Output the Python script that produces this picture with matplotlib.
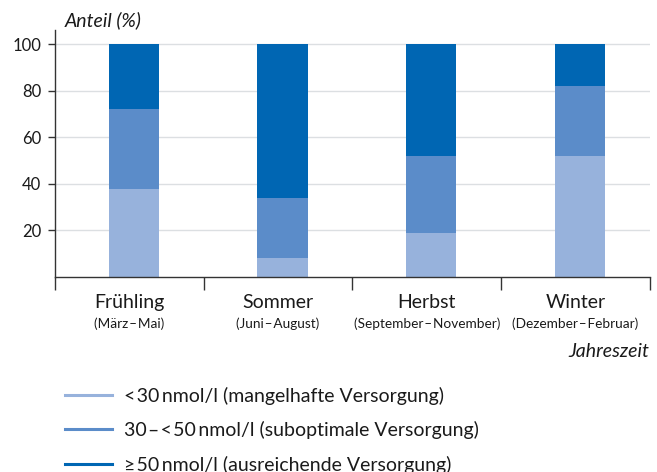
import matplotlib
matplotlib.use("Agg")
import matplotlib.pyplot as plt
from matplotlib.lines import Line2D
import numpy as np

plt.rcParams['font.family'] = ['Lato', 'DejaVu Sans']

seasons = ["Frühling", "Sommer", "Herbst", "Winter"]
months = ["(März\u200a–\u200aMai)", "(Juni\u200a–\u200aAugust)",
          "(September\u200a–\u200aNovember)", "(Dezember\u200a–\u200aFebruar)"]
mangel = [38, 8, 19, 52]
subopt = [34, 26, 33, 30]
ausr = [28, 66, 48, 18]
series_labels = ["<\u200a30\u2009nmol/l (mangelhafte Versorgung)",
                 "30\u200a–\u200a<\u200a50\u2009nmol/l (suboptimale Versorgung)",
                 "≥\u200a50\u2009nmol/l (ausreichende Versorgung)"]
colors = ["#97b2dc", "#5b8cc9", "#0066b3"]
yticks = [20, 40, 60, 80, 100]

fig = plt.figure(figsize=(6.57, 4.72), dpi=100)
ax = fig.add_axes([0.0837, 0.413, 0.9053, 0.5234])

x = np.arange(len(seasons))
xb = x + 0.03
w = 0.34
b1 = np.array(mangel)
b2 = b1 + np.array(subopt)
ax.bar(xb, mangel, w, color=colors[0], zorder=2)
ax.bar(xb, subopt, w, bottom=b1, color=colors[1], zorder=2)
ax.bar(xb, ausr, w, bottom=b2, color=colors[2], zorder=2)

ax.set_xlim(-0.5, len(seasons) - 0.5)
ax.set_ylim(0, 106)
ax.set_yticks(yticks)
ax.set_yticklabels([str(v) for v in yticks], fontsize=12, color="#1a1a1a")
ax.yaxis.grid(True, color="#dcdfe2", linewidth=1.0, zorder=0)
ax.set_axisbelow(True)

ax.set_xticks(np.arange(-0.5, len(seasons), 1.0))
ax.set_xticklabels([])
ax.tick_params(axis='x', direction='out', length=9, width=1.0, color="#333333")
ax.tick_params(axis='y', direction='out', length=5, width=1.0, color="#333333", pad=5)

for i, (s, m) in enumerate(zip(seasons, months)):
    ax.annotate(s, xy=(i, 0), xycoords=('data', 'axes fraction'),
                xytext=(0, -12), textcoords='offset points',
                ha='center', va='top', fontsize=14, color="#1a1a1a")
    ax.annotate(m, xy=(i, 0), xycoords=('data', 'axes fraction'),
                xytext=(0, -29), textcoords='offset points',
                ha='center', va='top', fontsize=9.8, color="#1a1a1a")

for sp in ['top', 'right']:
    ax.spines[sp].set_visible(False)
for sp in ['left', 'bottom']:
    ax.spines[sp].set_color("#333333")
    ax.spines[sp].set_linewidth(1.0)

fig.text(0.099, 0.957, "Anteil (%)", style='italic', fontsize=14,
         ha='left', va='center', color="#1a1a1a")
fig.text(0.988, 0.256, "Jahreszeit", style='italic', fontsize=14,
         ha='right', va='center', color="#1a1a1a")

handles = [Line2D([0], [0], color=c, linewidth=2.2) for c in colors]
fig.legend(handles, series_labels, loc='upper left',
           bbox_to_anchor=(0.099, 0.181), frameon=False,
           fontsize=14, handlelength=2.4, handletextpad=0.65,
           labelspacing=0.85, borderaxespad=0, borderpad=0,
           labelcolor="#1a1a1a")

fig.savefig("out.png", dpi=100)
